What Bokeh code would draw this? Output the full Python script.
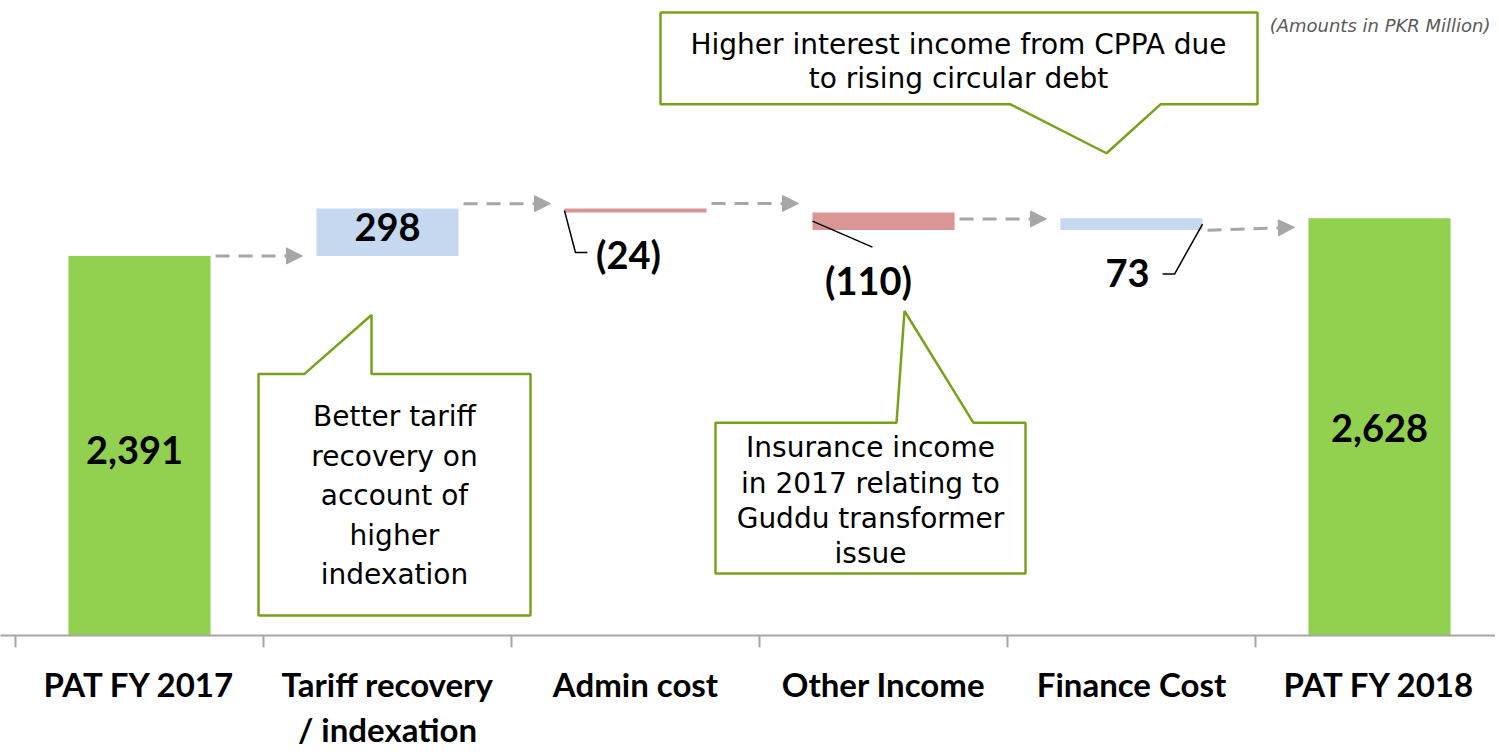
from bokeh.plotting import figure
from bokeh.models import Range1d, FixedTicker, Arrow, NormalHead, ColumnDataSource
from bokeh.core.properties import value
from bokeh.embed import file_html
from bokeh.resources import INLINE

# ---------------- data ----------------
categories = ["PAT FY 2017", "Tariff recovery\n/ indexation", "Admin cost",
              "Other Income", "Finance Cost", "PAT FY 2018"]
kinds = ["total", "delta", "delta", "delta", "delta", "total"]
amounts = [2391, 298, -24, -110, 73, 2628]
value_labels = ["2,391", "298", "(24)", "(110)", "73", "2,628"]

note_tariff = "Better tariff\nrecovery on\naccount of\nhigher\nindexation"
note_other = "Insurance income\nin 2017 relating to\nGuddu transformer\nissue"
note_finance = "Higher interest income from CPPA due\nto rising circular debt"
unit_note = "(Amounts in PKR Million)"

# ---------------- layout constants ----------------
W, H = 1495, 752
X0, CAT_W = 15, 248          # px of x=0, px per category
Y0, SCALE = 636, 0.159       # px of y=0, px per unit
FRAME_H = Y0

GREEN, BLUE, RED = "#92D050", "#C6D9F1", "#D99694"
ARROW_C = "#A6A6A6"
CALLOUT_C = "#77A31B"
BAR_W = 0.573


def dx(px):
    return (px - X0) / CAT_W


def dy(py):
    return (Y0 - py) / SCALE


def pxw(n):
    return n / CAT_W


def pyh(n):
    return n / SCALE


# waterfall geometry
centers = [i + 0.5 for i in range(len(categories))]
bottoms, tops, colors, levels = [], [], [], []
running = 0
for k, v in zip(kinds, amounts):
    if k == "total":
        b, t = 0, v
        running = v
        c = GREEN
    else:
        b, t = running, running + v
        running += v
        c = BLUE if v > 0 else RED
    bottoms.append(min(b, t))
    tops.append(max(b, t))
    colors.append(c)
    levels.append(running)

p = figure(width=W, height=H, output_backend="svg", toolbar_location=None,
           x_range=Range1d(dx(0), dx(W)), y_range=Range1d(0, FRAME_H / SCALE),
           min_border_left=0, min_border_right=0, min_border_top=0,
           min_border_bottom=H - FRAME_H)
p.outline_line_color = None
p.grid.visible = False
p.yaxis.visible = False
p.background_fill_color = "white"
p.border_fill_color = "white"

src = ColumnDataSource(dict(x=centers, bottom=bottoms, top=tops, color=colors))
p.vbar(x="x", width=BAR_W, bottom="bottom", top="top", fill_color="color",
       line_color=None, source=src)

# connector arrows (pixel offsets from running levels)
arrow_dy_start = [0, -5, -9, -11, 12]
arrow_dy_end = [0, -5, -9, -11, 9]
ax0, ay0, ax1, ay1 = [], [], [], []
for i in range(len(categories) - 1):
    ax0.append(centers[i] + BAR_W / 2 + pxw(5))
    ax1.append(centers[i + 1] - BAR_W / 2 - pxw(14))
    ay0.append(levels[i] - pyh(arrow_dy_start[i]))
    ay1.append(levels[i] - pyh(arrow_dy_end[i]))
asrc = ColumnDataSource(dict(x0=ax0, y0=ay0, x1=ax1, y1=ay1))
p.add_layout(Arrow(source=asrc, x_start="x0", y_start="y0", x_end="x1", y_end="y1",
                   line_color=ARROW_C, line_width=3, line_dash="14 9",
                   end=NormalHead(size=16, fill_color=ARROW_C, line_color=ARROW_C,
                                  line_width=1)))

# value labels (pixel offsets from bar centre / bar middle)
lab_dx = [-5, 0, -7, -15, -4, 0]
lab_dy = [4, -5, 44, 59, 49, 1]
lx, ly = [], []
for i in range(len(categories)):
    mid = (bottoms[i] + tops[i]) / 2
    lx.append(centers[i] + pxw(lab_dx[i]))
    ly.append(mid - pyh(lab_dy[i]))
p.text(x=lx, y=ly, text=value_labels, text_font=value("Lato"), text_font_style="bold",
       text_font_size="38px", text_color="black", text_align="center",
       text_baseline="middle")

# leader lines (pixel offsets from bar edge / bar middle)
leaders = {2: ("left", [(0, 0), (11, 42), (23, 42)]),
           3: ("left", [(0, 0), (60, 26)]),
           4: ("right", [(0, 0), (-28, 50), (-40, 50)])}
lxs, lys = [], []
for i, (side, pts) in leaders.items():
    ex = centers[i] - BAR_W / 2 if side == "left" else centers[i] + BAR_W / 2
    mid = (bottoms[i] + tops[i]) / 2
    lxs.append([ex + pxw(a) for a, b in pts])
    lys.append([mid - pyh(b) for a, b in pts])
p.multi_line(xs=lxs, ys=lys, line_color="black", line_width=1.5)

# callouts (pixel layout)
callouts = [
    ([258, 258, 304, 371, 371, 530, 530], [616, 374, 374, 315, 374, 374, 616],
     394, 496, note_tariff, 1.2),
    ([715, 715, 896, 904, 973, 1025, 1025], [574, 423, 423, 311, 423, 423, 574],
     870, 501, note_other, 1.07),
    ([660, 660, 1257, 1257, 1160, 1106, 1010], [104, 12, 12, 104, 104, 153, 104],
     958, 61, note_finance, 1.01),
]
p.patches(xs=[[dx(v) for v in c[0]] for c in callouts],
          ys=[[dy(v) for v in c[1]] for c in callouts],
          fill_color="white", line_color=CALLOUT_C, line_width=2.5)
for c in callouts:
    p.text(x=[dx(c[2])], y=[dy(c[3])], text=[c[4]], text_font=value("DejaVu Sans"),
           text_font_size="28px", text_color="black", text_align="center",
           text_baseline="middle", text_line_height=c[5])

p.text(x=[dx(1490)], y=[dy(25)], text=[unit_note], text_font=value("DejaVu Sans"),
       text_font_style="italic", text_font_size="18px", text_color="#595959",
       text_align="right", text_baseline="middle")

# axis
ax = p.xaxis[0]
ax.ticker = FixedTicker(ticks=centers, minor_ticks=list(range(len(categories) + 1)))
ax.major_label_overrides = {c: lab for c, lab in zip(centers, categories)}
ax.axis_line_color = ARROW_C
ax.axis_line_width = 2
ax.major_tick_line_color = None
ax.major_tick_out = 0
ax.major_tick_in = 0
ax.minor_tick_line_color = ARROW_C
ax.minor_tick_line_width = 2
ax.minor_tick_out = 12
ax.minor_tick_in = 0
ax.major_label_standoff = 16
ax.major_label_text_font = "Lato"
ax.major_label_text_font_style = "bold"
ax.major_label_text_font_size = "33px"
ax.major_label_text_color = "black"
ax.major_label_text_line_height = 1.14

open("out.html", "w").write(file_html(p, INLINE))
